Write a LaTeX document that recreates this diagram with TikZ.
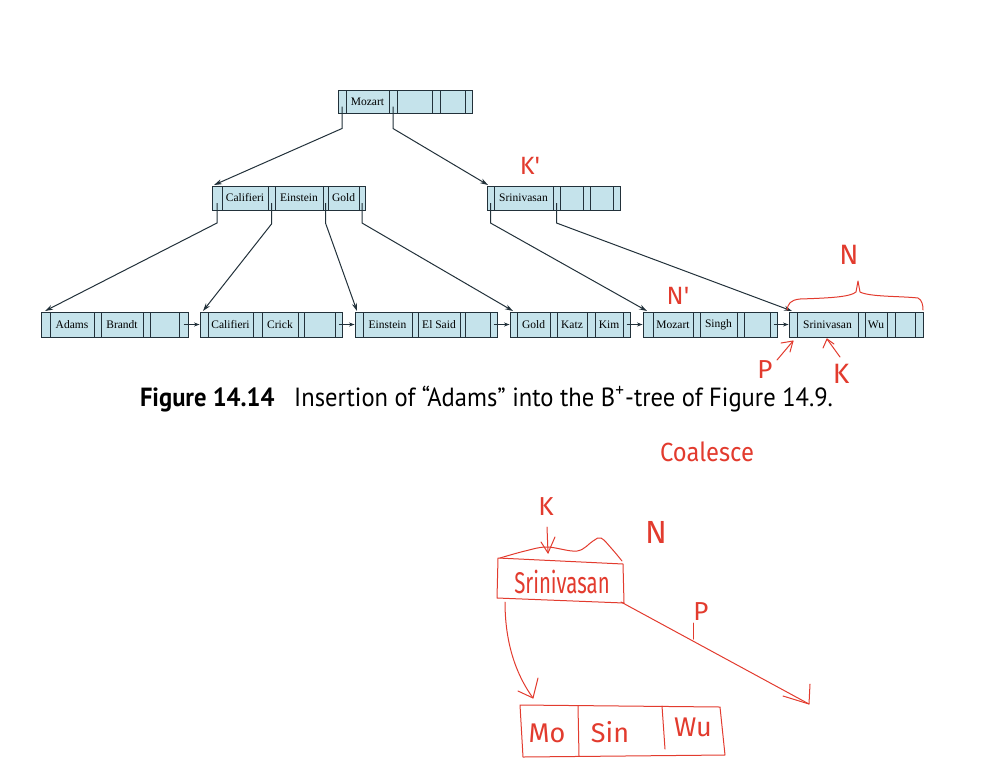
\documentclass[tikz,border=0pt]{standalone}
\usepackage{fontspec}
\setmainfont{Liberation Serif}
\newfontfamily\capfont{PT Sans}
\newfontfamily\handfont{Fira Sans}
\usetikzlibrary{arrows.meta,calc,fit}
\definecolor{nodefill}{HTML}{C5E3EB}
\definecolor{nodeline}{HTML}{22313A}
\definecolor{inkred}{HTML}{E23B2E}
\tikzset{
  nodebox/.style={draw=nodeline, fill=nodefill, line width=0.9pt, inner sep=0pt},
  cellline/.style={draw=nodeline, line width=0.9pt},
  keytext/.style={inner sep=0pt, font=\fontsize{11.5}{12}\selectfont},
  ptr/.style={draw=nodeline, line width=1pt, -{Stealth[length=8pt,width=5pt]}},
  sib/.style={draw=nodeline, line width=1pt, -{Stealth[length=5.5pt,width=4pt]}},
  ink/.style={draw=inkred, line width=1pt, line cap=round, line join=round},
  hand/.style={text=inkred, inner sep=0pt},
}
\newcommand\treenode[5]{%
  \foreach \xx [count=\i] in {#4}{%
    \coordinate (#1-t\i) at (\xx,#2);
    \coordinate (#1-u\i) at (\xx,#3);
  }
  \node[nodebox, fit=(#1-t1)(#1-u8)] (#1) {};
  \foreach \i in {2,...,7}{\draw[cellline] (#1-t\i) -- (#1-u\i);}
  \foreach \k [count=\j] in {#5}{%
    \pgfmathtruncatemacro\ia{2*\j}\pgfmathtruncatemacro\ib{2*\j+1}%
    \node[keytext] (#1-k\j) at ($(#1-t\ia)!0.5!(#1-u\ib)$) {\k};
  }
  \foreach \j in {1,...,4}{%
    \pgfmathtruncatemacro\ia{2*\j-1}\pgfmathtruncatemacro\ib{2*\j}%
    \coordinate (#1-p\j) at ($(#1-t\ia)!0.5!(#1-u\ib)$);
  }
}
\begin{document}
\begin{tikzpicture}[x=1pt,y=-1pt]
\useasboundingbox (0,0) rectangle (998,780);
% tree nodes
\treenode{root}{90}{113}{338,346,389,397,432,440,465,472}{Mozart,{},{}}
\treenode{in1}{186}{210}{212,222,268,275,323,328,359,365}{Califieri,Einstein,Gold}
\treenode{in2}{186}{210}{487,494,553,560,583,590,613,620}{Srinivasan,{},{}}
\treenode{l1}{312}{337}{41,50,94,101,143,150,179,188}{Adams,Brandt,{}}
\treenode{l2}{312}{337}{200,208,253,262,298,304,335,342}{Califieri,Crick,{}}
\treenode{l3}{312}{337}{355,363,412,418,460,465,490,497}{Einstein,El Said,{}}
\treenode{l4}{312}{337}{510,517,550,557,587,595,623,630}{Gold,Katz,Kim}
\treenode{l5}{312}{337}{643,653,693,700,737,744,770,777}{Mozart,Singh,{}}
\treenode{l6}{312}{337}{789,797,858,865,887,895,915,923}{Srinivasan,Wu,{}}
% pointers
\draw[ptr] ($(root-p1)+(0,5)$) -- ($(root-p1)+(0,27)$) -- ($(in1-t1)+(2,-1)$);
\draw[ptr] ($(root-p2)+(0,5)$) -- ($(root-p2)+(0,27)$) -- ($(in2-t1)+(1,-1)$);
\draw[ptr] ($(in1-p1)+(0,5)$) -- ($(in1-p1)+(0,25)$) -- ($(l1-t1)+(4,-1)$);
\draw[ptr] ($(in1-p2)+(0,5)$) -- ($(in1-p2)+(0,26)$) -- ($(l2-t1)+(3,-1)$);
\draw[ptr] ($(in1-p3)+(0,5)$) -- ($(in1-p3)+(0,25)$) -- ($(l3-t1)+(2,-1)$);
\draw[ptr] ($(in1-p4)+(0,5)$) -- ($(in1-p4)+(0,25)$) -- ($(l4-t1)+(3,-1)$);
\draw[ptr] ($(in2-p1)+(0,5)$) -- ($(in2-p1)+(0,25)$) -- ($(l5-t1)+(4,-1)$);
\draw[ptr] ($(in2-p2)+(0,5)$) -- ($(in2-p2)+(0,25)$) -- ($(l6-t1)+(3,-1)$);
% sibling pointers
\draw[sib] (l1-p4) -- (l2.west);
\draw[sib] (l2-p4) -- (l3.west);
\draw[sib] (l3-p4) -- (l4.west);
\draw[sib] (l4-p4) -- (l5.west);
\draw[sib] (l5-p4) -- (l6.west);
% caption
\node[inner sep=0pt] (cap) at (486.5,399) {\capfont\resizebox*{693pt}{26pt}{{\bfseries Figure 14.14}\hspace{0.8em}Insertion of “Adams” into the B\textsuperscript{+}-tree of Figure 14.9.}};
% handwritten annotations (upper)
\node[hand, font=\handfont\fontsize{25}{25}\selectfont] (kp) at (530,166) {K'};
\node[hand, font=\handfont\fontsize{25}{25}\selectfont] (np) at (678,296) {N'};
\node[hand, font=\handfont\fontsize{28}{28}\selectfont] (nn) at (849,255) {N};
\draw[ink] (787,310) .. controls (788,304) and (790,300) .. (800,299)
  .. controls (830,298) and (850,297) .. (856,292) -- (858,281) -- (860,292)
  .. controls (870,297) and (900,296) .. (918,298) .. controls (922,300) and (923,305) .. (923,310);
\node[hand, font=\handfont\fontsize{26}{26}\selectfont] (pp) at (765,370) {P};
\draw[ink] (777,360) -- (793,341);
\draw[ink] (781,343) -- (793,341) -- (790,352);
\node[hand, font=\handfont\fontsize{28}{28}\selectfont] (kk) at (841,374) {K};
\draw[ink] (840,357) -- (827,339);
\draw[ink] (823,348) -- (827,339) -- (834,344);
\node[hand, font=\handfont\fontsize{25}{25}\selectfont] (coal) at (707,452) {\scalebox{0.95}[1.05]{Coalesce}};
% handwritten sketch (lower)
\node[hand, font=\handfont\fontsize{26}{26}\selectfont] (k2) at (546,507) {K};
\draw[ink] (547,527) -- (548,553);
\draw[ink] (541,542) -- (548,553) -- (555,537);
\node[hand, font=\handfont\fontsize{32}{32}\selectfont] (n2) at (656,532) {N};
\draw[ink] plot[smooth, tension=0.6] coordinates {(500,558) (525,551) (547,547) (577,551) (593,541) (601,538) (612,549) (622,561)};
\draw[ink] (498,558) -- (623,564) -- (624,603) -- (497,598) -- cycle;
\node[hand, font=\handfont\fontsize{30}{30}\selectfont] (sri) at (562,582) {\scalebox{0.68}[1]{Srinivasan}};
\node[hand, font=\handfont\fontsize{26}{26}\selectfont] (p2) at (701,612) {P};
\draw[ink] (693,623) -- (693,639);
\draw[ink] (621,602) -- (809,704);
\draw[ink] (783,696) -- (809,704) -- (810,684);
\draw[ink] (505,602) .. controls (505,650) and (520,680) .. (533,698);
\draw[ink] (518,691) -- (533,698) -- (538,678);
\draw[ink] (520,705) -- (720,707) -- (725,755) -- (523,757) -- cycle;
\draw[ink] (578,706) -- (579,756);
\draw[ink] (662,706) -- (665,749);
\node[hand, font=\handfont\fontsize{27}{27}\selectfont] (mo) at (547,733) {Mo};
\node[hand, font=\handfont\fontsize{27}{27}\selectfont] (sin) at (610,732) {Sin};
\node[hand, font=\handfont\fontsize{27}{27}\selectfont] (wu) at (693,727) {Wu};
\end{tikzpicture}
\end{document}
